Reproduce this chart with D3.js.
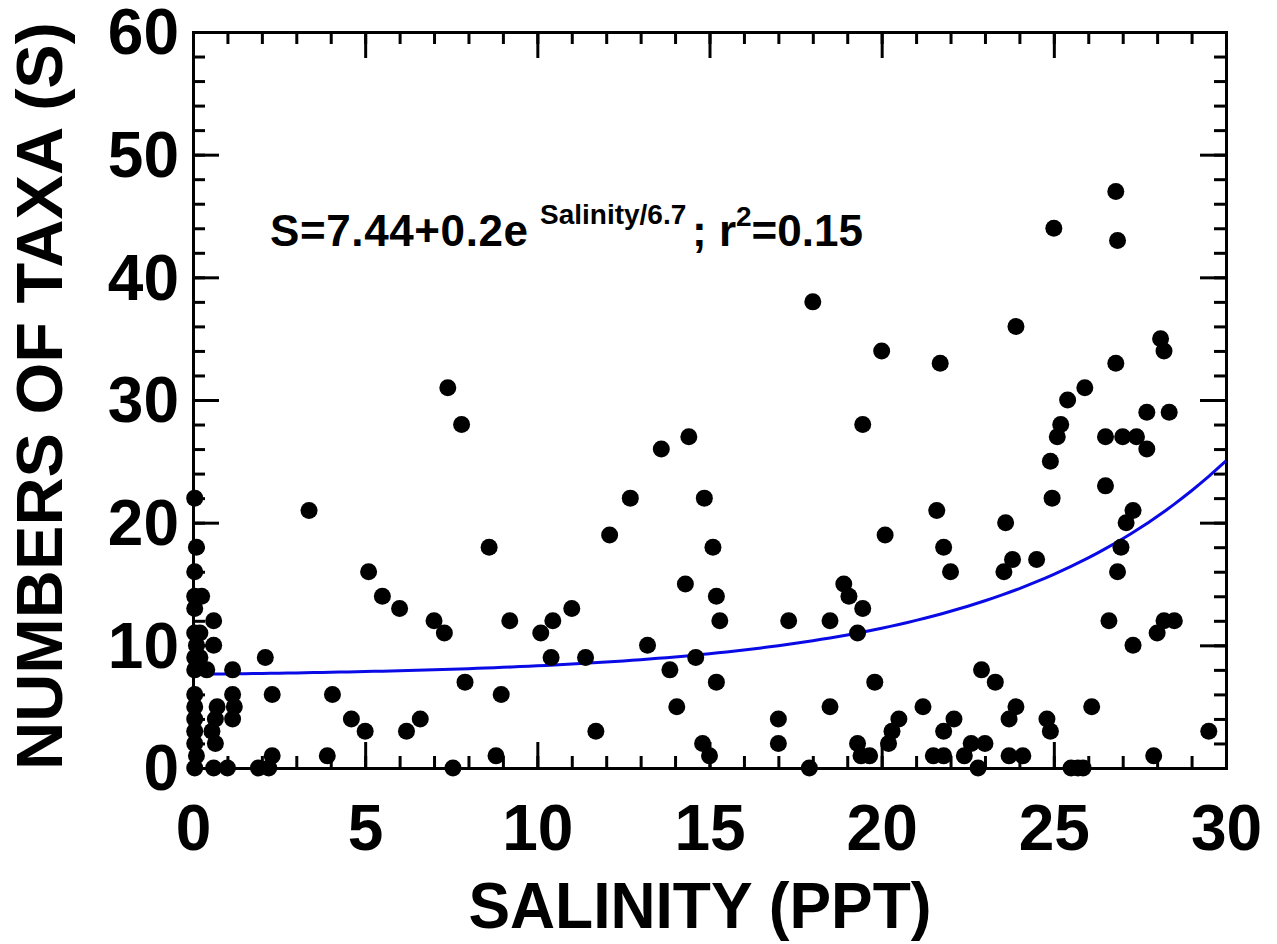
<!DOCTYPE html>
<html>
<head>
<meta charset="utf-8">
<script src="https://cdn.jsdelivr.net/npm/d3@7"></script>
<style>
  html, body { margin: 0; padding: 0; background: #fff; overflow: hidden; }
  svg { display: block; }
  text { font-family: "Liberation Sans", Arial, sans-serif; font-weight: bold; fill: #000; }
</style>
</head>
<body>
<div id="chart"></div>
<script>
const width = 1277, height = 944;
const margin = { top: 32, right: 51, bottom: 176, left: 193 };
const innerWidth = width - margin.left - margin.right;
const innerHeight = height - margin.top - margin.bottom;

// salinity (ppt) and number of taxa
const salinity = [
  0.05, 0.1, 0.05, 0.05, 0.25, 0.05, 0.6, 0.05, 0.2, 0.6, 0.1, 0.05, 0.2, 0.05, 0.4, 1.15,
  0.05, 1.15, 0.05, 0.7, 1.2, 0.05, 0.65, 1.15, 0.05, 0.55, 0.05, 0.65, 0.1, 0.05, 0.6, 1.0,
  1.9, 2.2, 2.1, 2.3, 2.3,
  3.37, 3.9, 4.05, 4.6, 5.0, 5.1, 5.5, 6.0, 6.2, 6.6, 7.0, 7.3, 7.4, 7.55, 7.8, 7.9, 8.6, 8.8,
  8.95, 9.2, 10.1, 10.45, 10.4, 11.0, 11.4, 11.7, 12.1, 12.7, 13.2, 13.6, 13.85, 14.05, 14.3,
  14.4, 14.6, 14.8, 14.85, 15.0, 15.1, 15.2, 15.2, 15.3,
  17.0, 17.0, 17.3, 17.9, 18.0, 18.5, 18.5, 18.9, 19.05, 19.3, 19.3, 19.4, 19.65, 19.45, 19.45,
  19.8, 20.0, 20.1, 20.2, 20.3, 20.5, 21.2, 21.5, 21.8, 21.6, 21.7, 21.8, 21.8, 22.0, 22.1,
  22.4, 22.6, 22.8, 22.9, 23.0, 23.3, 23.55, 23.6, 23.7, 23.7, 23.8, 23.9, 23.9, 24.1, 24.5,
  24.8, 24.9, 24.9, 24.95, 25.0, 25.1, 25.2, 25.4, 25.5, 25.7, 25.85, 25.9, 26.1, 26.5, 26.5,
  26.6, 26.8, 26.8, 26.85, 26.85, 26.95, 27.0, 27.1, 27.3, 27.3, 27.4, 27.7, 27.7, 27.9, 28.0,
  28.1, 28.2, 28.2, 28.35, 28.5, 29.5
];
const taxa = [
  22, 18, 16, 14, 14, 13, 12, 11, 11, 10, 10, 9, 9, 8, 8, 8,
  6, 6, 5, 5, 5, 4, 4, 4, 3, 3, 2, 2, 1, 0, 0, 0,
  0, 0, 9, 6, 1,
  21, 1, 6, 4, 3, 16, 14, 13, 3, 4, 12, 11, 31, 0, 28, 7, 18, 1,
  6, 12, 11, 12, 9, 13, 9, 3, 19, 22, 10, 26, 8, 5, 15,
  27, 9, 2, 22, 1, 18, 14, 7, 12,
  4, 2, 12, 0, 38, 12, 5, 15, 14, 11, 2, 1, 1, 13, 28,
  7, 34, 19, 2, 3, 4, 5, 1, 1, 21, 33, 18, 3, 16, 4,
  1, 2, 0, 8, 2, 7, 16, 20, 4, 1, 17, 5, 36, 1, 17,
  4, 3, 25, 22, 44, 27, 28, 30, 0, 0, 0, 31, 5, 27, 23,
  12, 33, 47, 43, 16, 18, 27, 20, 21, 10, 27, 26, 29, 1, 11,
  35, 34, 12, 29, 12, 3
];

// fitted curve S = a + b * exp(salinity / c)
const fitA = 7.44, fitB = 0.2, fitC = 6.7;

const xTicks = [0, 5, 10, 15, 20, 25, 30];
const xMinorTicks = d3.range(0, 31, 1);
const yTicks = [0, 10, 20, 30, 40, 50, 60];
const yMinorTicks = d3.range(0, 61, 2);

const points = salinity.map((s, i) => ({ s, n: taxa[i] }));

const svg = d3.select("#chart")
  .append("svg")
  .attr("width", width)
  .attr("height", height)
  .attr("viewBox", [0, 0, width, height]);

const innerChart = svg
  .append("g")
  .attr("transform", `translate(${margin.left}, ${margin.top})`);

const xScale = d3.scaleLinear().domain([0, 30]).range([0, innerWidth]);
const yScale = d3.scaleLinear().domain([0, 60]).range([innerHeight, 0]);

// black 3px lines, and drop the empty labels of tick-only axes
const styleAxis = (g) => {
  g.selectAll("path, line").attr("stroke", "#000").attr("stroke-width", 3);
  g.selectAll("path").attr("fill", "none").attr("stroke-linecap", "square");
};
const ticksOnly = (g) => {
  styleAxis(g);
  g.selectAll("text").remove();
};

// minor ticks, all four sides, pointing inward
innerChart.append("g")
  .attr("transform", `translate(0, ${innerHeight})`)
  .call(d3.axisBottom(xScale).tickValues(xMinorTicks).tickSize(-12).tickSizeOuter(0))
  .call(ticksOnly);
innerChart.append("g")
  .call(d3.axisTop(xScale).tickValues(xMinorTicks).tickSize(-12).tickSizeOuter(0))
  .call(ticksOnly);
innerChart.append("g")
  .call(d3.axisLeft(yScale).tickValues(yMinorTicks).tickSize(-12).tickSizeOuter(0))
  .call(ticksOnly);
innerChart.append("g")
  .attr("transform", `translate(${innerWidth}, 0)`)
  .call(d3.axisRight(yScale).tickValues(yMinorTicks).tickSize(-12).tickSizeOuter(0))
  .call(ticksOnly);

// major ticks
const xAxis = innerChart.append("g")
  .attr("transform", `translate(0, ${innerHeight})`)
  .call(d3.axisBottom(xScale).tickValues(xTicks).tickSize(-26).tickSizeOuter(0).tickPadding(0))
  .call(styleAxis);
xAxis.selectAll("text")
  .attr("y", 82)
  .attr("dy", 0)
  .style("font-size", "64px");

innerChart.append("g")
  .call(d3.axisTop(xScale).tickValues(xTicks).tickSize(-26).tickSizeOuter(0))
  .call(ticksOnly);

const yAxis = innerChart.append("g")
  .call(d3.axisLeft(yScale).tickValues(yTicks).tickSize(-26).tickSizeOuter(0))
  .call(styleAxis);
yAxis.selectAll("text")
  .attr("x", -14)
  .attr("dy", "0.34em")
  .style("font-size", "64px");

innerChart.append("g")
  .attr("transform", `translate(${innerWidth}, 0)`)
  .call(d3.axisRight(yScale).tickValues(yTicks).tickSize(-26).tickSizeOuter(0))
  .call(ticksOnly);

// fitted curve
const curveXs = d3.range(0, 30.01, 0.25);
const line = d3.line()
  .x(d => xScale(d))
  .y(d => yScale(fitA + fitB * Math.exp(d / fitC)));

innerChart.append("path")
  .datum(curveXs)
  .attr("fill", "none")
  .attr("stroke", "#0a0ae6")
  .attr("stroke-width", 3)
  .attr("d", line);

// data points
innerChart.selectAll("circle")
  .data(points)
  .join("circle")
  .attr("cx", d => xScale(d.s))
  .attr("cy", d => yScale(d.n))
  .attr("r", 8.5)
  .attr("fill", "#000");

// equation
const eq = svg.append("text")
  .attr("x", 270)
  .attr("y", 246)
  .style("font-size", "44px");
eq.append("tspan").attr("textLength", 258).text("S=7.44+0.2e");
eq.append("tspan").attr("x", 540).attr("dy", -22).style("font-size", "28px").text("Salinity/6.7");
eq.append("tspan").attr("x", 692).attr("dy", 22).text("; r");
eq.append("tspan").attr("dy", -20).style("font-size", "28px").text("2");
eq.append("tspan").attr("dy", 20).text("=0.15");

// axis titles
svg.append("text")
  .attr("x", 700)
  .attr("y", 928)
  .attr("text-anchor", "middle")
  .attr("textLength", 463)
  .attr("lengthAdjust", "spacingAndGlyphs")
  .style("font-size", "64px")
  .text("SALINITY (PPT)");

svg.append("text")
  .attr("transform", "translate(62, 396) rotate(-90)")
  .attr("text-anchor", "middle")
  .attr("textLength", 748)
  .attr("lengthAdjust", "spacingAndGlyphs")
  .style("font-size", "65px")
  .text("NUMBERS OF TAXA (S)");
</script>
</body>
</html>
